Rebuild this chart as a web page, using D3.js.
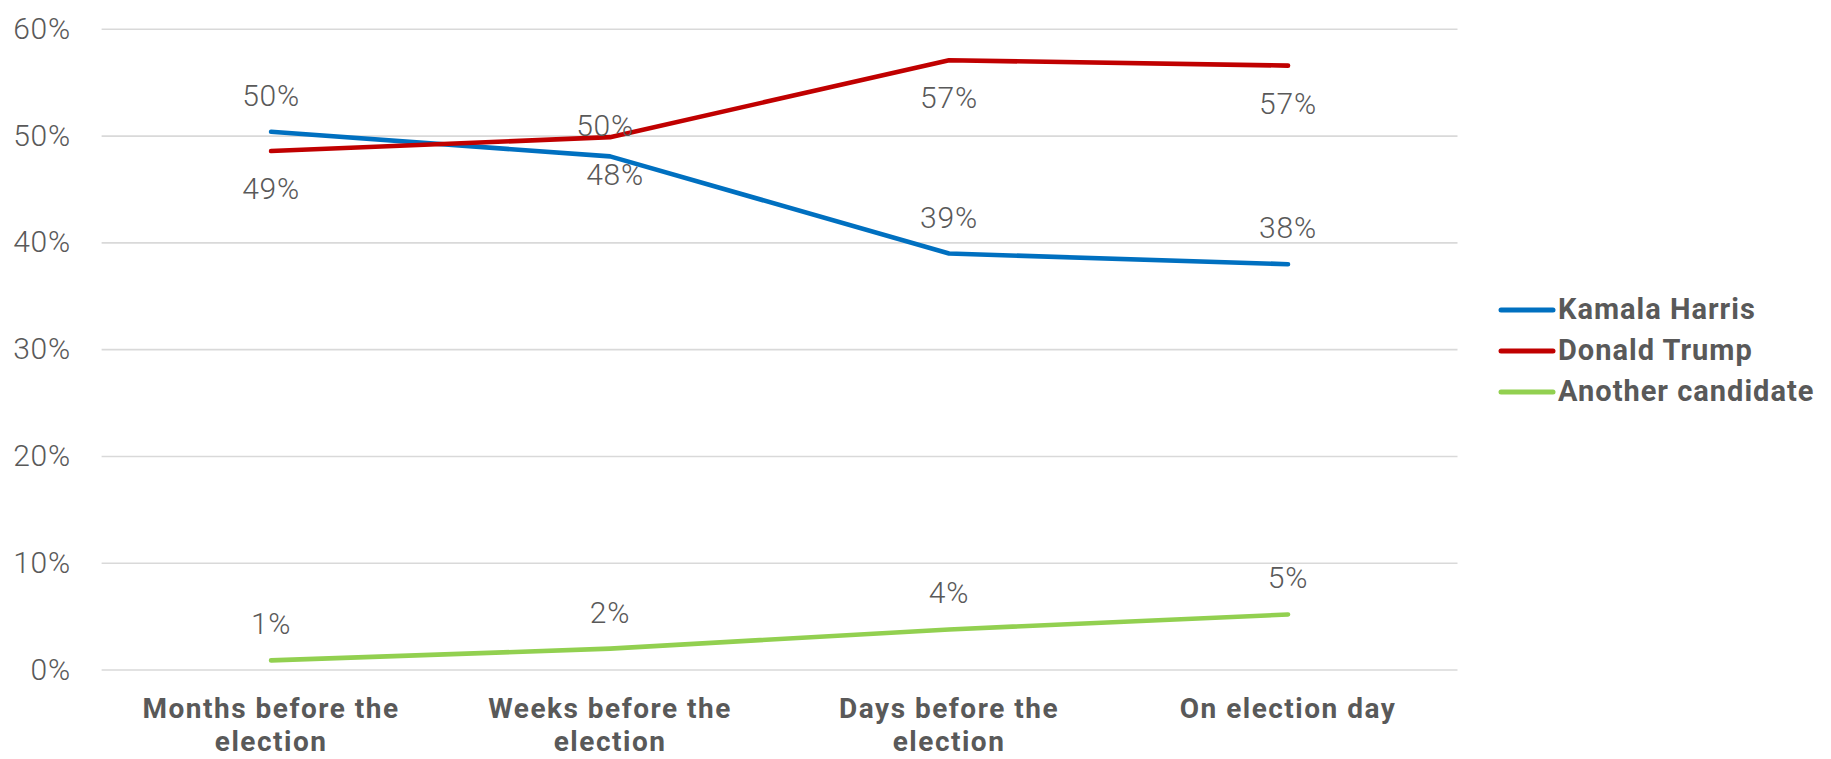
<!DOCTYPE html>
<html>
<head>
<meta charset="utf-8">
<script src="https://cdn.jsdelivr.net/npm/d3@7"></script>
<style>
  html, body { margin: 0; padding: 0; background: #ffffff; }
  svg { display: block; }
</style>
</head>
<body>
<svg id="chart" width="1831" height="759"></svg>
<script>
// ---- Data ----
const categories = ["Months before the election", "Weeks before the election", "Days before the election", "On election day"];
const seriesNames = ["Kamala Harris", "Donald Trump", "Another candidate"];
const harrisValues = [0.504, 0.481, 0.390, 0.380];
const trumpValues = [0.486, 0.499, 0.571, 0.566];
const otherValues = [0.009, 0.020, 0.038, 0.052];
const yTicks = [0, 0.1, 0.2, 0.3, 0.4, 0.5, 0.6];

// label placement codes (style, not data)
const harrisLabelPlace = ["above", "nearBelow", "above", "above"];
const trumpLabelPlace = ["below", "nearAbove", "below", "below"];
const otherLabelPlace = ["above", "above", "above", "above"];

const colors = ["#0070C0", "#C00000", "#92D050"];
const series = [
  { name: seriesNames[0], values: harrisValues, color: colors[0], place: harrisLabelPlace },
  { name: seriesNames[1], values: trumpValues, color: colors[1], place: trumpLabelPlace },
  { name: seriesNames[2], values: otherValues, color: colors[2], place: otherLabelPlace }
];

// ---- Layout ----
const svg = d3.select("#chart");
const plot = { left: 101.6, right: 1457.5, top: 29.3, bottom: 670 };
const textColor = "#595959";
const lightFont = "Roboto, 'Open Sans', sans-serif";
const boldFont = "Roboto, 'Open Sans', sans-serif";

const x = d3.scaleBand().domain(categories).range([plot.left, plot.right]).padding(0);
const y = d3.scaleLinear().domain([0, 0.6]).range([plot.bottom, plot.top]);
const cx = c => x(c) + x.bandwidth() / 2;

// Gridlines
svg.append("g")
  .selectAll("line")
  .data(yTicks)
  .join("line")
  .attr("x1", plot.left).attr("x2", plot.right)
  .attr("y1", d => y(d)).attr("y2", d => y(d))
  .attr("stroke", "#d9d9d9").attr("stroke-width", 1.6);

// Y axis via d3 axis
const yAxis = d3.axisLeft(y).tickValues(yTicks).tickFormat(d3.format(".0%")).tickSize(0).tickPadding(0);
const yg = svg.append("g").attr("transform", `translate(${71},0)`).call(yAxis);
yg.select(".domain").remove();
yg.selectAll("text")
  .attr("fill", textColor)
  .attr("font-family", lightFont)
  .attr("font-weight", 300)
  .attr("font-size", 30)
  .attr("letter-spacing", 0.8)
  .attr("dy", null)
  .attr("dominant-baseline", "auto")
  .attr("transform", "translate(0,9)");

// X axis labels (category), wrapped
const xAxis = d3.axisBottom(x).tickSize(0).tickPadding(0);
const xg = svg.append("g").attr("transform", `translate(0,${plot.bottom})`).call(xAxis);
xg.select(".domain").remove();
xg.selectAll("text").each(function(d) {
  const t = d3.select(this);
  t.text(null)
   .attr("y", 0).attr("dy", null)
   .attr("fill", textColor)
   .attr("font-family", boldFont)
   .attr("font-weight", 700)
   .attr("font-size", 28)
   .attr("letter-spacing", 1.5)
   .attr("text-anchor", "middle");
  const words = d.split(" ");
  let line = [];
  let lineNo = 0;
  let tspan = t.append("tspan").attr("x", 0).attr("y", 48);
  for (const w of words) {
    line.push(w);
    tspan.text(line.join(" "));
    if (tspan.node().getComputedTextLength() > 310 && line.length > 1) {
      line.pop();
      tspan.text(line.join(" "));
      line = [w];
      lineNo++;
      tspan = t.append("tspan").attr("x", 0).attr("y", 48 + lineNo * 33).text(w);
    }
  }
});

// Lines
const lineGen = d3.line()
  .x((d, i) => cx(categories[i]))
  .y(d => y(d));

svg.append("g")
  .selectAll("path")
  .data(series)
  .join("path")
  .attr("d", s => lineGen(s.values))
  .attr("fill", "none")
  .attr("stroke", s => s.color)
  .attr("stroke-width", 4.6)
  .attr("stroke-linecap", "round")
  .attr("stroke-linejoin", "round");

// Data labels
const placeOffset = { above: [0, -26], below: [0, 48], nearAbove: [-5, -1], nearBelow: [5, 29] };
const labelData = [];
series.forEach(s => s.values.forEach((v, i) => labelData.push({ v, i, place: s.place[i] })));
svg.append("g")
  .selectAll("text")
  .data(labelData)
  .join("text")
  .attr("x", d => cx(categories[d.i]) + placeOffset[d.place][0])
  .attr("y", d => y(d.v) + placeOffset[d.place][1])
  .attr("text-anchor", "middle")
  .attr("fill", textColor)
  .attr("font-family", lightFont)
  .attr("font-weight", 300)
  .attr("font-size", 30)
  .attr("letter-spacing", 0.8)
  .text(d => d3.format(".0%")(d.v));

// Legend
const legend = svg.append("g");
const legendY = d3.scalePoint().domain(seriesNames).range([310, 392]);
const lg = legend.selectAll("g").data(series).join("g")
  .attr("transform", s => `translate(0,${legendY(s.name)})`);
lg.append("line")
  .attr("x1", 1501).attr("x2", 1553)
  .attr("y1", 0).attr("y2", 0)
  .attr("stroke", s => s.color)
  .attr("stroke-width", 5)
  .attr("stroke-linecap", "round");
lg.append("text")
  .attr("x", 1558).attr("y", 9)
  .attr("fill", textColor)
  .attr("font-family", boldFont)
  .attr("font-weight", 700)
  .attr("font-size", 29)
  .attr("letter-spacing", 1)
  .text(s => s.name);
</script>
</body>
</html>
